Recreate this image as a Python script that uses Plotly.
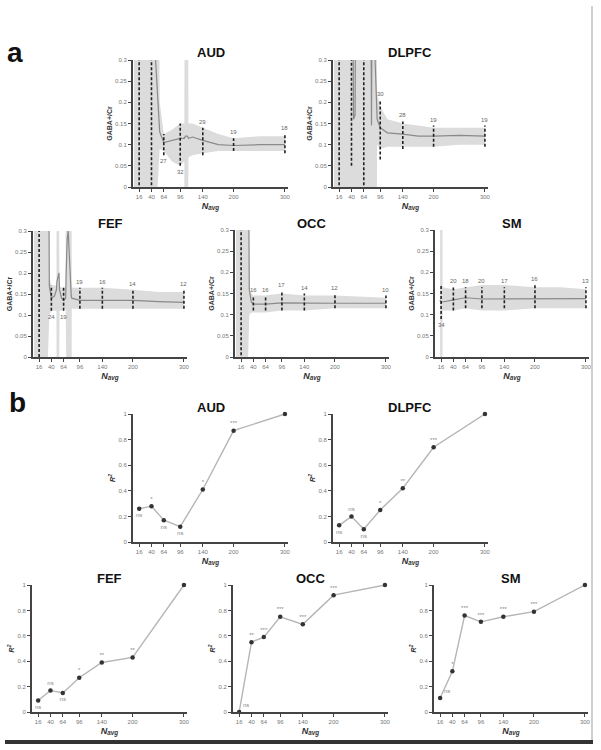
import plotly.graph_objects as go

# ---- values ----
n_avg = [16, 40, 64, 96, 140, 200, 300]
n_ticks = ["16", "40", "64", "96", "140", "200", "300"]

# (a) running mean GABA+/Cr and shaded interval (+/-1 means off the axis)
aud_x = [6, 16, 30, 44, 48, 52, 56, 64, 80, 96, 104, 106, 110, 112, 120, 140, 170, 200, 250, 300]
aud_mean = [1, 1, 1, 1, 0.3, 0.2, 0.13, 0.105, 0.11, 0.115, 0.115, 0.12, 0.12, 0.115, 0.118, 0.11, 0.1, 0.098, 0.1, 0.1]
aud_lo = [-1, -1, -1, -1, -1, -1, 0.09, 0.085, 0.06, 0.05, 0.06, -1, -1, 0.07, 0.075, 0.08, 0.085, 0.085, 0.085, 0.085]
aud_hi = [1, 1, 1, 1, 1, 1, 0.2, 0.125, 0.135, 0.15, 0.15, 1, 1, 0.15, 0.15, 0.14, 0.125, 0.115, 0.12, 0.12]
aud_bar_lo = [-1, -1, 0.075, 0.05, 0.075, 0.085, 0.08]
aud_bar_hi = [1, 1, 0.125, 0.15, 0.14, 0.115, 0.125]
aud_n = ["", "", "27", "32", "29", "19", "18"]
aud_n_side = ["", "", "below", "below", "above", "above", "above"]

dlpfc_x = [6, 16, 30, 40, 44, 47, 50, 64, 76, 79, 82, 86, 90, 96, 110, 140, 170, 200, 250, 300]
dlpfc_mean = [1, 1, 1, 1, 0.16, 0.17, 1, 1, 1, 0.145, 1, 0.3, 0.16, 0.14, 0.128, 0.125, 0.12, 0.12, 0.122, 0.12]
dlpfc_lo = [-1, -1, -1, -1, -1, -1, -1, -1, -1, -1, -1, -1, 0.1, 0.09, 0.095, 0.095, 0.095, 0.095, 0.1, 0.1]
dlpfc_hi = [1, 1, 1, 1, 1, 1, 1, 1, 1, 1, 1, 1, 0.22, 0.19, 0.16, 0.15, 0.145, 0.14, 0.14, 0.14]
dlpfc_bar_lo = [-1, 0.05, -1, 0.065, 0.09, 0.095, 0.095]
dlpfc_bar_hi = [1, 1, 1, 0.205, 0.155, 0.145, 0.145]
dlpfc_n = ["", "", "", "30", "28", "19", "19"]
dlpfc_n_side = ["", "", "", "above", "above", "above", "above"]

fef_x = [6, 16, 30, 33, 36, 40, 46, 50, 51, 55, 56, 60, 64, 68, 69, 71, 73, 76, 79, 80, 96, 140, 200, 250, 300]
fef_mean = [1, 1, 1, 1, 0.17, 0.14, 0.145, 0.16, 0.18, 0.2, 0.16, 0.14, 0.135, 0.14, 0.2, 0.28, 0.3, 0.2, 0.145,
            0.14, 0.135, 0.135, 0.135, 0.132, 0.13]
fef_lo = [-1, -1, -1, -1, 0.1, 0.11, 0.11, 0.11, -1, -1, 0.11, 0.11, 0.115, 0.115, -1, -1, -1, -1, -1,
          0.115, 0.115, 0.115, 0.115, 0.115, 0.115]
fef_hi = [1, 1, 1, 1, 0.19, 0.17, 0.17, 0.17, 1, 1, 0.17, 0.165, 0.165, 0.165, 1, 1, 1, 1, 1,
          0.165, 0.165, 0.165, 0.16, 0.155, 0.155]
fef_bar_lo = [-1, 0.11, 0.11, 0.115, 0.115, 0.115, 0.115]
fef_bar_hi = [1, 0.17, 0.165, 0.165, 0.165, 0.16, 0.16]
fef_n = ["", "24", "19", "19", "16", "14", "12"]
fef_n_side = ["", "below", "below", "above", "above", "above", "above"]

occ_x = [6, 16, 28, 32, 36, 40, 64, 96, 140, 200, 300]
occ_mean = [1, 1, 1, 0.16, 0.13, 0.125, 0.125, 0.128, 0.127, 0.127, 0.127]
occ_lo = [-1, -1, -1, 0.1, 0.105, 0.105, 0.105, 0.11, 0.11, 0.115, 0.115]
occ_hi = [1, 1, 1, 0.16, 0.15, 0.145, 0.145, 0.15, 0.145, 0.145, 0.14]
occ_bar_lo = [-1, 0.11, 0.11, 0.11, 0.11, 0.115, 0.115]
occ_bar_hi = [1, 0.145, 0.145, 0.155, 0.15, 0.15, 0.145]
occ_n = ["", "16", "16", "17", "14", "12", "10"]
occ_n_side = ["", "above", "above", "above", "above", "above", "above"]

sm_x = [14, 15, 17, 19, 40, 64, 96, 140, 200, 250, 300]
sm_mean = [0.135, 0.13, 0.13, 0.13, 0.135, 0.14, 0.137, 0.137, 0.137, 0.138, 0.138]
sm_lo = [0.1, -1, -1, 0.11, 0.11, 0.115, 0.11, 0.11, 0.115, 0.115, 0.115]
sm_hi = [0.15, 1, 1, 0.165, 0.16, 0.165, 0.17, 0.17, 0.165, 0.165, 0.16]
sm_bar_lo = [0.09, 0.11, 0.115, 0.115, 0.115, 0.115, 0.115]
sm_bar_hi = [0.17, 0.165, 0.165, 0.165, 0.165, 0.17, 0.165]
sm_n = ["34", "20", "18", "20", "17", "16", "13"]
sm_n_side = ["below", "above", "above", "above", "above", "above", "above"]

# (b) R^2 against N_avg = 300
aud_r2 = [0.26, 0.28, 0.17, 0.12, 0.41, 0.87, 1.0]
aud_sig = ["ns", "*", "ns", "ns", "*", "***", ""]
aud_sig_side = ["below", "above", "below", "below", "above", "above", "above"]
dlpfc_r2 = [0.13, 0.20, 0.10, 0.25, 0.42, 0.74, 1.0]
dlpfc_sig = ["ns", "ns", "ns", "*", "**", "***", ""]
dlpfc_sig_side = ["below", "above", "below", "above", "above", "above", "above"]
fef_r2 = [0.09, 0.17, 0.15, 0.27, 0.39, 0.43, 1.0]
fef_sig = ["ns", "ns", "ns", "*", "**", "**", ""]
fef_sig_side = ["below", "above", "below", "above", "above", "above", "above"]
occ_r2 = [0.0, 0.55, 0.59, 0.75, 0.69, 0.92, 1.0]
occ_sig = ["ns", "**", "***", "***", "***", "***", ""]
occ_sig_side = ["right", "above", "above", "above", "above", "above", "above"]
sm_r2 = [0.11, 0.32, 0.76, 0.71, 0.75, 0.79, 1.0]
sm_sig = ["ns", "*", "***", "***", "***", "***", ""]
sm_sig_side = ["right", "above", "above", "above", "above", "above", "above"]

panel_a = {
    "AUD": (aud_x, aud_mean, aud_lo, aud_hi, aud_bar_lo, aud_bar_hi, aud_n, aud_n_side),
    "DLPFC": (dlpfc_x, dlpfc_mean, dlpfc_lo, dlpfc_hi, dlpfc_bar_lo, dlpfc_bar_hi, dlpfc_n, dlpfc_n_side),
    "FEF": (fef_x, fef_mean, fef_lo, fef_hi, fef_bar_lo, fef_bar_hi, fef_n, fef_n_side),
    "OCC": (occ_x, occ_mean, occ_lo, occ_hi, occ_bar_lo, occ_bar_hi, occ_n, occ_n_side),
    "SM": (sm_x, sm_mean, sm_lo, sm_hi, sm_bar_lo, sm_bar_hi, sm_n, sm_n_side),
}
panel_b = {
    "AUD": (aud_r2, aud_sig, aud_sig_side),
    "DLPFC": (dlpfc_r2, dlpfc_sig, dlpfc_sig_side),
    "FEF": (fef_r2, fef_sig, fef_sig_side),
    "OCC": (occ_r2, occ_sig, occ_sig_side),
    "SM": (sm_r2, sm_sig, sm_sig_side),
}
text_pos = {"above": "top center", "below": "bottom center", "right": "top right"}

# ---- layout: pixel boxes (left, right, top, bottom) ----
W, H = 601, 750
box_a = {"AUD": (133, 288, 60, 187), "DLPFC": (333, 488, 60, 187), "FEF": (33, 187, 231, 357),
         "OCC": (235, 389, 230, 357), "SM": (435, 589, 230, 357)}
box_b = {"AUD": (133, 288, 414, 542), "DLPFC": (333, 488, 414, 542), "FEF": (32, 187, 585, 712),
         "OCC": (233, 388, 585, 712), "SM": (434, 588, 585, 712)}

FONT = "Liberation Sans, Arial, sans-serif"
fig = go.Figure()
layout = {}
annotations = []


def add_axes(i, box, yrange, yticks, ytext, ytitle, ystyle):
    l, r, t, b = box
    sfx = "" if i == 1 else str(i)
    common = dict(showline=True, linecolor="#444", linewidth=2, ticks="outside", ticklen=3,
                  tickcolor="#444", tickwidth=1, showgrid=False, zeroline=False, automargin=False,
                  tickfont=dict(size=6, color="#777", family=FONT))
    layout["xaxis" + sfx] = dict(common, domain=[l / W, r / W], anchor="y" + sfx, range=[4, 306],
                                 tickvals=n_avg, ticktext=n_ticks,
                                 title=dict(text="N<sub>avg</sub>", standoff=3,
                                            font=dict(size=9, color="#333", family=FONT,
                                                      weight="bold", style="italic")))
    layout["yaxis" + sfx] = dict(common, domain=[1 - b / H, 1 - t / H], anchor="x" + sfx, range=yrange,
                                 tickvals=yticks, ticktext=ytext,
                                 title=dict(text=ytitle, standoff=2,
                                            font=dict(size=7, color="#333", family=FONT,
                                                      weight="bold", style=ystyle)))
    return "x" + sfx, "y" + sfx


def add_title(name, box):
    l, r, t, b = box
    annotations.append(dict(text=name, xref="paper", yref="paper",
                            x=(l + r) / 2 / W, y=1 - (t - 7) / H, xanchor="center", yanchor="middle",
                            showarrow=False, font=dict(size=13, color="#111", family=FONT, weight="bold")))


i = 0
for name, (cx, mean, lo, hi, blo, bhi, counts, sides) in panel_a.items():
    i += 1
    xa, ya = add_axes(i, box_a[name], [0, 0.3], [0, 0.05, 0.1, 0.15, 0.2, 0.25, 0.3],
                      ["0", "0.05", "0.1", "0.15", "0.2", "0.25", "0.3"], "GABA+/Cr", "normal")
    fig.add_trace(go.Scatter(x=cx + cx[::-1], y=hi + lo[::-1], fill="toself", fillcolor="#dcdcdc",
                             line=dict(width=0), mode="lines", xaxis=xa, yaxis=ya, showlegend=False,
                             hoverinfo="skip"))
    fig.add_trace(go.Scatter(x=cx, y=mean, mode="lines", line=dict(color="#8a8a8a", width=1.2),
                             xaxis=xa, yaxis=ya, showlegend=False))
    bx, by = [], []
    for x, y0, y1 in zip(n_avg, blo, bhi):
        bx += [x, x, None]
        by += [y0, y1, None]
    fig.add_trace(go.Scatter(x=bx, y=by, mode="lines", line=dict(color="#222", width=1.6, dash="3px,2px"),
                             xaxis=xa, yaxis=ya, showlegend=False))
    for x, y0, y1, txt, side in zip(n_avg, blo, bhi, counts, sides):
        if not txt:
            continue
        annotations.append(dict(text=txt, x=x, y=y1 if side == "above" else y0, xref=xa, yref=ya,
                                xanchor="center", yanchor="bottom" if side == "above" else "top",
                                showarrow=False, yshift=1 if side == "above" else -1,
                                font=dict(size=6, color="#666", family=FONT)))
    add_title(name, box_a[name])

for name, (r2, sig, sides) in panel_b.items():
    i += 1
    xa, ya = add_axes(i, box_b[name], [0, 1], [0, 0.2, 0.4, 0.6, 0.8, 1],
                      ["0", "0.2", "0.4", "0.6", "0.8", "1"], "R<sup>2</sup>", "italic")
    fig.add_trace(go.Scatter(x=n_avg, y=r2, mode="lines+markers+text", cliponaxis=False,
                             text=sig, textposition=[text_pos[s] for s in sides],
                             textfont=dict(size=6, color="#888", family=FONT),
                             line=dict(color="#b5b5b5", width=1.4),
                             marker=dict(color="#333", size=4.5),
                             xaxis=xa, yaxis=ya, showlegend=False))
    add_title(name, box_b[name])

# panel letters
annotations.append(dict(text="a", xref="paper", yref="paper", x=15 / W, y=1 - 52 / H,
                        xanchor="center", yanchor="middle", showarrow=False,
                        font=dict(size=28, color="#111", family=FONT, weight="bold")))
annotations.append(dict(text="b", xref="paper", yref="paper", x=17 / W, y=1 - 402 / H,
                        xanchor="center", yanchor="middle", showarrow=False,
                        font=dict(size=28, color="#111", family=FONT, weight="bold")))

shapes = [
    dict(type="line", xref="paper", yref="paper", x0=592 / W, x1=592 / W, y0=1 - 742 / H, y1=1 - 6 / H,
         line=dict(color="#cfcfcf", width=2)),
    dict(type="line", xref="paper", yref="paper", x0=5 / W, x1=593 / W, y0=1 - 742 / H, y1=1 - 742 / H,
         line=dict(color="#333", width=4)),
]

fig.update_layout(width=W, height=H, margin=dict(l=0, r=0, t=0, b=0), plot_bgcolor="white",
                  paper_bgcolor="white", annotations=annotations, shapes=shapes,
                  font=dict(family=FONT), **layout)

# page body has a default 8px margin; drop it so the figure fills the window
fig.write_html("out.html", config={"displayModeBar": False},
               post_script="document.body.style.margin='0';")
